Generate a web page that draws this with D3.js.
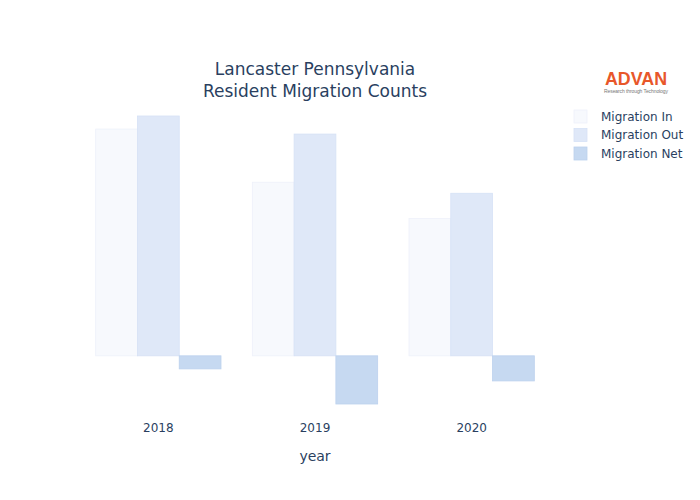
<!DOCTYPE html>
<html>
<head>
<meta charset="utf-8">
<script src="https://cdn.jsdelivr.net/npm/d3@7"></script>
<style>
  body { margin: 0; background: #fff; }
  text { font-family: Verdana, "DejaVu Sans", sans-serif; fill: #2a3f5f; }
</style>
</head>
<body>
<svg id="viz" width="700" height="500"></svg>
<script>
// Data
const years = ['2018', '2019', '2020'];
const seriesNames = ['Migration In', 'Migration Out', 'Migration Net'];
const migrationIn  = [22600, 17300, 13700];
const migrationOut = [23900, 22100, 16200];
const migrationNet = [-1300, -4800, -2500];
const seriesColors = ['#f7f9fd', '#dfe8f8', '#c6d9f1'];
const seriesStroke = ['#eef1fa', '#d6e1f5', '#bcd1ee'];

const values = [migrationIn, migrationOut, migrationNet];

const svg = d3.select('#viz');
const margin = { top: 100, right: 150, bottom: 80, left: 80 };
const width  = +svg.attr('width')  - margin.left - margin.right;
const height = +svg.attr('height') - margin.top  - margin.bottom;
const g = svg.append('g')
             .attr('transform', `translate(${margin.left},${margin.top})`);

// Scales (plotly-like 5% padding on the value axis)
const xScale = d3.scaleBand()
                 .domain(years)
                 .range([0, width])
                 .paddingInner(0.2)
                 .paddingOuter(0.1);

const xInner = d3.scaleBand()
                 .domain(seriesNames)
                 .range([0, xScale.bandwidth()]);

const lo = d3.min(values.flat());
const hi = d3.max(values.flat());
const pad = (hi - lo) * (0.05 / 0.9);
const yScale = d3.scaleLinear()
                 .domain([lo - pad, hi + pad])
                 .range([height, 0]);

// Bars
seriesNames.forEach((name, si) => {
  g.append('g')
   .selectAll('rect')
   .data(years.map((y, i) => ({ year: y, v: values[si][i] })))
   .join('rect')
     .attr('x', d => xScale(d.year) + xInner(name))
     .attr('width', xInner.bandwidth())
     .attr('y', d => yScale(Math.max(0, d.v)))
     .attr('height', d => Math.abs(yScale(d.v) - yScale(0)))
     .attr('fill', seriesColors[si])
     .attr('stroke', seriesStroke[si])
     .attr('stroke-width', 0.8);
});

// X axis (labels only)
const xAxis = g.append('g')
               .attr('transform', `translate(0,${height})`)
               .call(d3.axisBottom(xScale).tickSize(0).tickPadding(3));
xAxis.select('.domain').remove();
xAxis.selectAll('text')
     .attr('font-size', 12)
     .style('font-family', 'Verdana, "DejaVu Sans", sans-serif')
     .attr('fill', '#2a3f5f');

g.append('text')
 .attr('x', width / 2)
 .attr('y', height + 41)
 .attr('text-anchor', 'middle')
 .attr('font-size', 14)
 .text('year');

// Title
const title = svg.append('text')
                 .attr('x', margin.left + width / 2)
                 .attr('y', 75)
                 .attr('text-anchor', 'middle')
                 .attr('font-size', 17);
title.append('tspan').attr('x', margin.left + width / 2).text('Lancaster Pennsylvania');
title.append('tspan').attr('x', margin.left + width / 2).attr('dy', 22).text('Resident Migration Counts');

// Logo
const logo = svg.append('g').attr('transform', 'translate(636,0)');
logo.append('text')
    .attr('y', 85)
    .attr('text-anchor', 'middle')
    .attr('font-size', 19)
    .attr('font-weight', 'bold')
    .attr('textLength', 62)
    .attr('lengthAdjust', 'spacingAndGlyphs')
    .style('fill', '#e8572a')
    .style('font-family', '"Liberation Sans", Arial, sans-serif')
    .text('ADVAN');
logo.append('text')
    .attr('y', 93)
    .attr('text-anchor', 'middle')
    .attr('font-size', 5)
    .attr('textLength', 64)
    .style('fill', '#777')
    .style('font-family', '"Liberation Sans", Arial, sans-serif')
    .text('Research through Technology');

// Legend
const legend = svg.append('g').attr('transform', 'translate(574,116)');
seriesNames.forEach((name, i) => {
  const row = legend.append('g').attr('transform', `translate(0,${i * 18.5})`);
  row.append('rect')
     .attr('x', 0).attr('y', -6)
     .attr('width', 13).attr('height', 13)
     .attr('fill', seriesColors[i])
     .attr('stroke', seriesStroke[i])
     .attr('stroke-width', 0.8);
  row.append('text')
     .attr('x', 27)
     .attr('y', 4.5)
     .attr('font-size', 12)
     .text(name);
});
</script>
</body>
</html>
